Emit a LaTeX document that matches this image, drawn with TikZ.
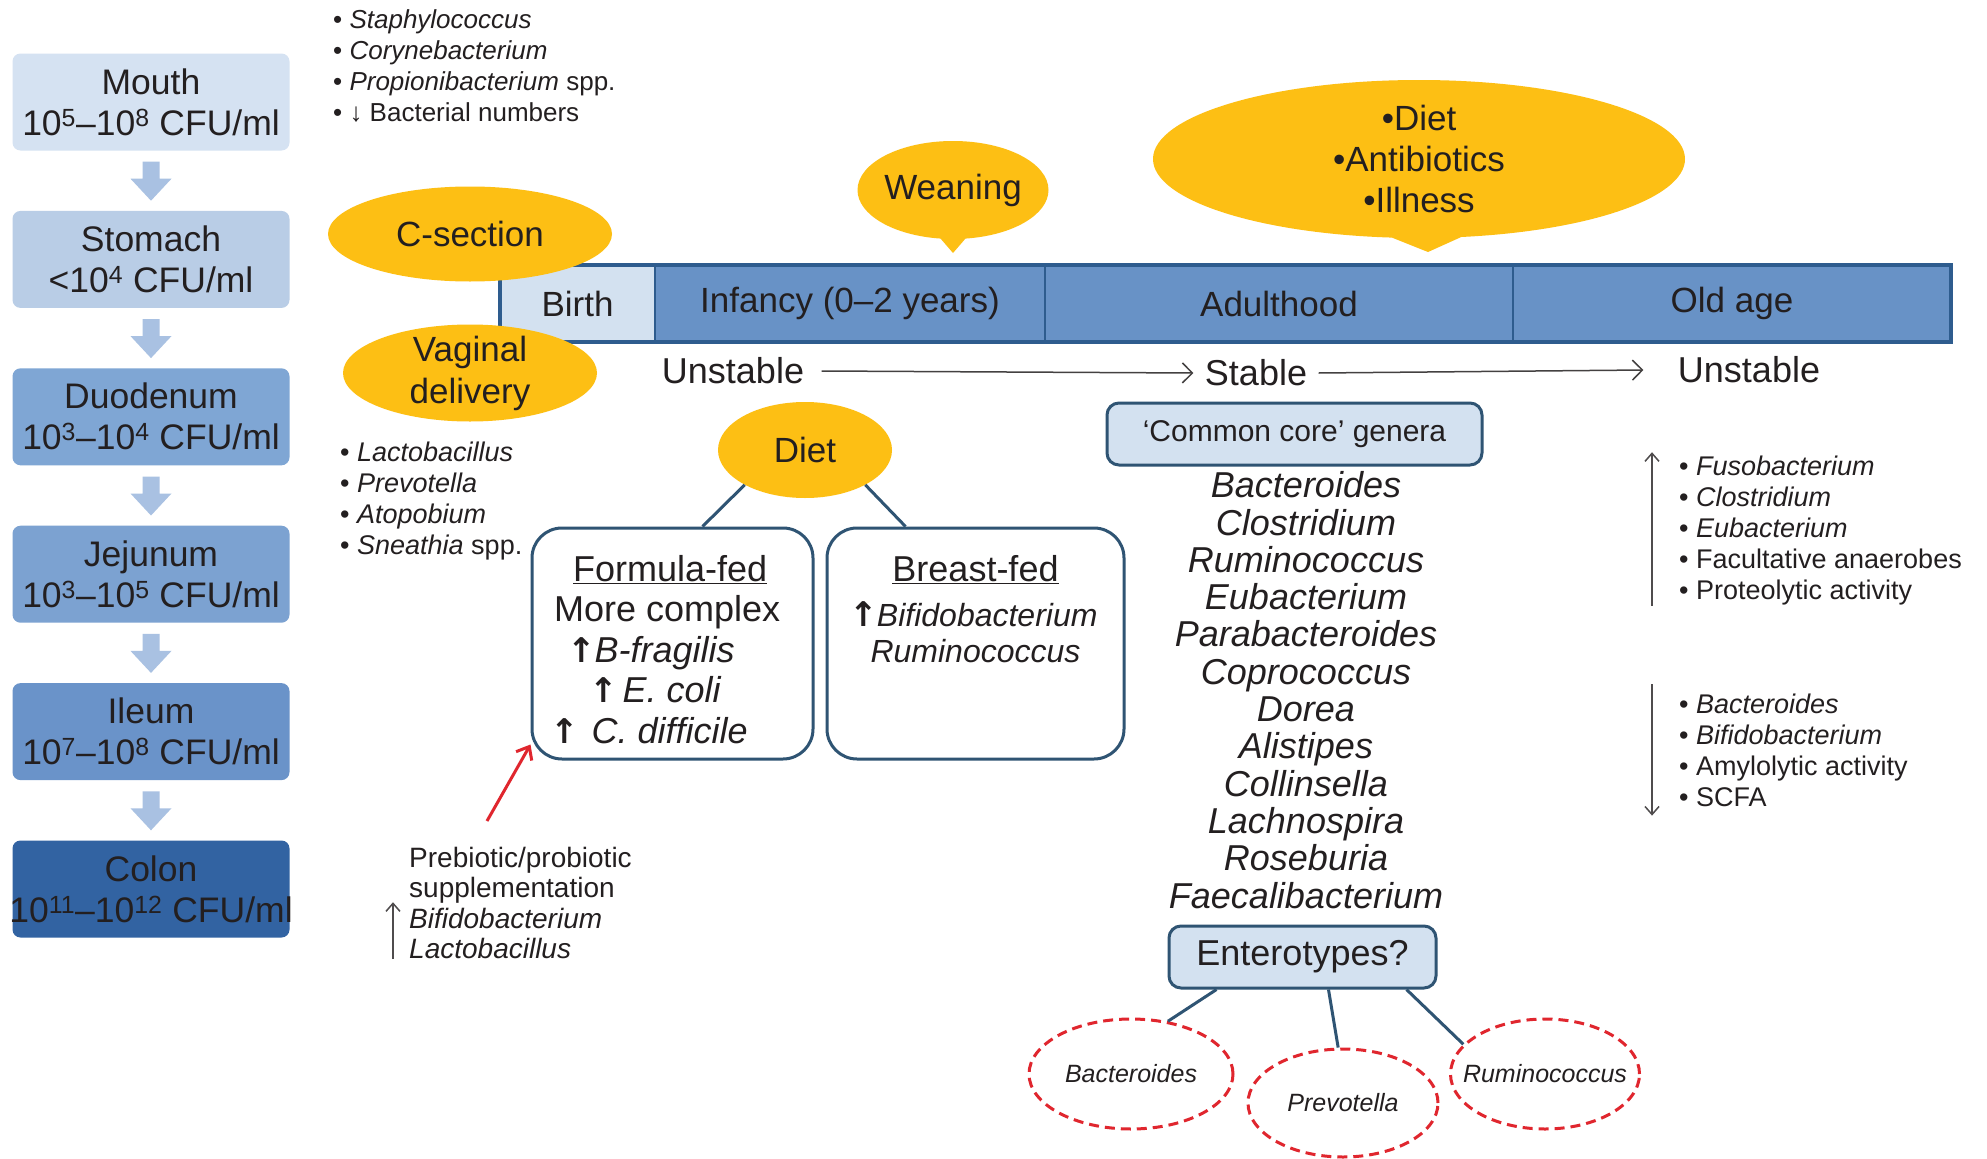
\documentclass[tikz,border=0pt]{standalone}
\usepackage{fontspec}
\setmainfont{Liberation Sans}
\newfontfamily\arrowfont{DejaVu Sans}
\usetikzlibrary{positioning,shapes.geometric,shapes.callouts,arrows.meta,calc}

\definecolor{amber}{HTML}{FDBF14}
\definecolor{pale}{HTML}{D3E1F0}
\definecolor{barblue}{HTML}{6892C6}
\definecolor{bardark}{HTML}{2E5C8E}
\definecolor{slate}{HTML}{2F5473}
\definecolor{ink}{HTML}{231F20}
\definecolor{redline}{HTML}{E0262E}
\definecolor{gutarrow}{HTML}{A9C1E2}
\definecolor{gutA}{HTML}{D5E2F2}
\definecolor{gutB}{HTML}{B9CDE6}
\definecolor{gutC}{HTML}{7FA6D4}
\definecolor{gutD}{HTML}{7CA2D1}
\definecolor{gutE}{HTML}{6A93C9}
\definecolor{gutF}{HTML}{3263A2}

\newcommand{\fs}[2]{\fontsize{#1}{#2}\selectfont}
\newcommand{\upup}{{\arrowfont\bfseries\fontsize{34}{34}\selectfont\kern-4pt↑\kern-1pt}}

\begin{document}
\begin{tikzpicture}[x=1pt,y=-1pt,
  every node/.style={text=ink},
  gut/.style={rounded corners=8, minimum width=277, minimum height=97, align=center, font=\fs{35.5}{41}},
  cell/.style={draw=bardark, line width=2, fill=barblue, minimum height=77, outer sep=0, font=\fs{35}{40}},
  bubble/.style={ellipse, fill=amber, inner xsep=-20pt, inner ysep=-12pt, align=center, font=\fs{35}{42}},
  speech/.style={ellipse callout, fill=amber, inner xsep=-20pt, inner ysep=-12pt, align=center, font=\fs{35}{41}},
  feedbox/.style={draw=slate, line width=3, rounded corners=30, fill=white},
  corebox/.style={draw=slate, line width=3, rounded corners=12, fill=pale},
  entero/.style={ellipse, draw=redline, line width=3, dash pattern=on 10pt off 6pt, inner xsep=-40pt, inner ysep=0, font=\fs{25}{28}\itshape},
  list/.style={anchor=west, inner sep=0, align=left},
  link/.style={draw=slate, line width=3},
  flow/.style={draw=ink!85, line width=1.5, -{Straight Barb[length=10pt,width=20pt]}},
  trend/.style={draw=ink!80, line width=1.5, -{Straight Barb[length=8pt,width=14pt]}},
  redarrow/.style={draw=redline, line width=3, -{Straight Barb[length=11pt,width=18pt]}}
]
  \path[fill=white, use as bounding box] (0,0) rectangle (1987,1159);

  % gut sections
  \node[gut, fill=gutA] (mouth) at (151,102) {Mouth\\10\textsuperscript{5}–10\textsuperscript{8} CFU/ml};
  \node[gut, fill=gutB, below=60pt of mouth] (stomach) {Stomach\\<10\textsuperscript{4} CFU/ml};
  \node[gut, fill=gutC, below=60pt of stomach] (duodenum) {Duodenum\\10\textsuperscript{3}–10\textsuperscript{4} CFU/ml};
  \node[gut, fill=gutD, below=60pt of duodenum] (jejunum) {Jejunum\\10\textsuperscript{3}–10\textsuperscript{5} CFU/ml};
  \node[gut, fill=gutE, below=60pt of jejunum] (ileum) {Ileum\\10\textsuperscript{7}–10\textsuperscript{8} CFU/ml};
  \node[gut, fill=gutF, inner xsep=-14pt, below=60pt of ileum] (colon) {Colon\\10\textsuperscript{11}–10\textsuperscript{12} CFU/ml};
  \foreach \a/\b in {mouth/stomach,stomach/duodenum,duodenum/jejunum,jejunum/ileum,ileum/colon}
    \fill[gutarrow] ($(\a.south)+(-8.5,11)$) -- ($(\b.north)+(-8.5,-32)$) -- ++(-12,0)
      -- ($(\b.north)+(0,-10)$) -- ($(\b.north)+(20.5,-32)$) -- ++(-12,0)
      -- ($(\a.south)+(8.5,11)$) -- cycle;

  % skin flora
  \node[list, font=\fs{26}{31}] (skin) at (333,65.5) {• \textit{Staphylococcus}\\• \textit{Corynebacterium}\\• \textit{Propionibacterium} spp.\\• ↓ Bacterial numbers};

  % timeline
  \node[cell, fill=pale, minimum width=155] (birth) at (577.5,303.5) {Birth};
  \node[cell, minimum width=390, right=0pt of birth] (infancy) {Infancy (0–2 years)};
  \node[cell, minimum width=468, right=0pt of infancy] (adult) {Adulthood};
  \node[cell, minimum width=438, right=0pt of adult] (oldage) {Old age};
  \draw[bardark, line width=4] (birth.north west) rectangle (oldage.south east);

  % influences
  \node[bubble, minimum width=284, minimum height=95] (csection) at (470,234) {C-section};
  \node[bubble, minimum width=254, minimum height=97] (vaginal) at (470,373) {Vaginal\\delivery};
  \node[speech, minimum width=191, minimum height=98, callout absolute pointer={(953,253)}] (weaning) at (953,190) {Weaning};
  \node[speech, minimum width=532, minimum height=158, callout absolute pointer={(1428,252)}] (factors) at (1419,159) {•Diet\\•Antibiotics\\•Illness};

  % stability
  \node[font=\fs{36}{40}] (unstable1) at (733,371) {Unstable};
  \node[font=\fs{36}{40}] (stable) at (1256,373) {Stable};
  \node[font=\fs{36}{40}] (unstable2) at (1749,370) {Unstable};
  \draw[flow] ([xshift=14pt]unstable1.east) -- ([xshift=-8pt]stable.west);
  \draw[flow] ([xshift=8pt]stable.east) -- ([xshift=-31pt]unstable2.west);

  % vaginal flora
  \node[list, font=\fs{27}{31}] (vagflora) at (340,501) {• \textit{Lactobacillus}\\• \textit{Prevotella}\\• \textit{Atopobium}\\• \textit{Sneathia} spp.};

  % diet in infancy
  \node[bubble, minimum width=174, minimum height=96] (diet) at (805,450) {Diet};
  \node[feedbox, minimum width=281, minimum height=231] (formula) at (672.5,643.5) {};
  \node[feedbox, minimum width=297, minimum height=231] (breast) at (975.5,643.5) {};
  \draw[link] (diet.210) -- ([xshift=30pt]formula.north);
  \draw[link] (diet.330) -- ([xshift=-70pt]breast.north);
  \node[anchor=north west, align=left, inner sep=0, font=\fs{36}{40.5}] (formtext) at ([xshift=23.5pt,yshift=-28.5pt]formula.north west)
    {\hspace*{19pt}\underline{Formula-fed}\\More complex\\\hspace*{17pt}\upup\textit{B-fragilis}\\\hspace*{39pt}\upup\hspace{6pt}\textit{E. coli}\\\upup\hspace{14pt}\textit{C. difficile}};
  \node[below=29pt of breast.north, inner sep=0, font=\fs{36}{40}] (breasthead) {\underline{Breast-fed}};
  \node[below=17pt of breasthead, align=center, inner sep=0, font=\fs{32}{36}] (breastbody) {\upup\textit{Bifidobacterium}\\\textit{Ruminococcus}};

  % supplementation
  \node[list, font=\fs{28}{30.5}] (prebio) at (409,903) {Prebiotic/probiotic\\supplementation\\\textit{Bifidobacterium}\\\textit{Lactobacillus}};
  \draw[trend] ([xshift=-16pt]prebio.south west) -- ++(0,-57);
  \coordinate (suppl) at (487,821);
  \draw[redarrow] (suppl) -- ([yshift=16pt]formula.south west);

  % adult core
  \node[corebox, minimum width=375, minimum height=62, font=\fs{30}{34}] (core) at (1294.5,434) {‘Common core’ genera};
  \node[align=center, inner sep=0, font=\fs{36}{37.3}\itshape] (genera) at (1306,690) {Bacteroides\\Clostridium\\Ruminococcus\\Eubacterium\\Parabacteroides\\Coprococcus\\Dorea\\Alistipes\\Collinsella\\Lachnospira\\Roseburia\\Faecalibacterium};

  % enterotypes
  \node[corebox, minimum width=267, minimum height=62, font=\fs{36}{40}] (enttype) at (1302.5,957) {Enterotypes?};
  \node[entero, minimum width=204, minimum height=110] (bact) at (1131,1074) {Bacteroides};
  \node[entero, minimum width=190, minimum height=108] (prev) at (1343,1103) {Prevotella};
  \node[entero, minimum width=189, minimum height=110] (rumi) at (1545,1074) {Ruminococcus};
  \draw[link] ([xshift=-86pt]enttype.south) -- (bact.55);
  \draw[link] ([xshift=26pt]enttype.south) -- (prev.95);
  \draw[link] ([xshift=104pt]enttype.south) -- (rumi.160);

  % old age shifts
  \node[list, font=\fs{27}{31}] (uplist) at (1679,531) {• \textit{Fusobacterium}\\• \textit{Clostridium}\\• \textit{Eubacterium}\\• Facultative anaerobes\\• Proteolytic activity};
  \node[list, font=\fs{27}{31}] (downlist) at (1679,750) {• \textit{Bacteroides}\\• \textit{Bifidobacterium}\\• Amylolytic activity\\• SCFA};
  \draw[trend] ([xshift=-27pt]uplist.south west) -- ([xshift=-27pt,yshift=4pt]uplist.north west);
  \draw[trend] ([xshift=-27pt,yshift=9pt]downlist.north west) -- ([xshift=-27pt,yshift=-9pt]downlist.south west);
\end{tikzpicture}
\end{document}
